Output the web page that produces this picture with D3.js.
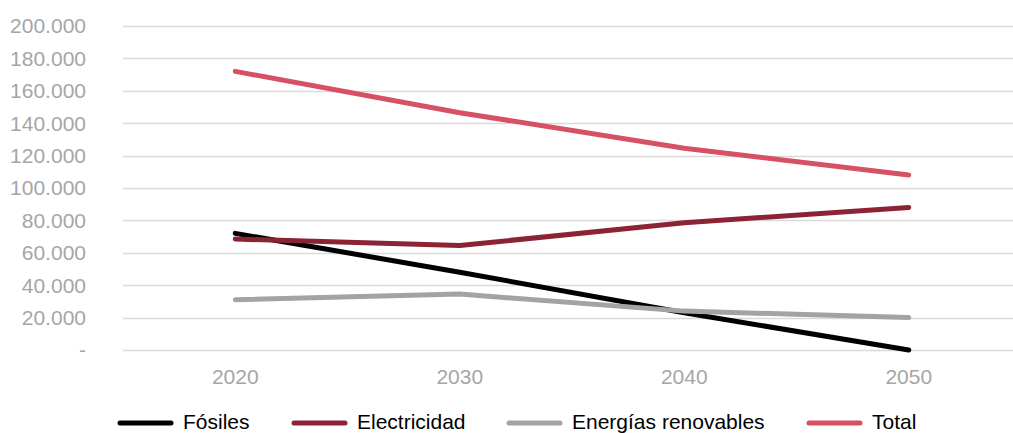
<!DOCTYPE html>
<html>
<head>
<meta charset="utf-8">
<script src="https://cdn.jsdelivr.net/npm/d3@7"></script>
<style>
  body { margin: 0; background: #fff; }
  svg { display: block; font-family: "Liberation Sans", Arial, sans-serif; }
</style>
</head>
<body>
<div id="chart"></div>
<script>
const years = ['2020', '2030', '2040', '2050'];
const fosiles = [72000, 48000, 23000, 0];
const electricidad = [68500, 64500, 78500, 88000];
const renovables = [31000, 34500, 24000, 20000];
const total = [172000, 146500, 124500, 108000];
const yTicks = [0, 20000, 40000, 60000, 80000, 100000, 120000, 140000, 160000, 180000, 200000];

const series = [
    {name: 'Fósiles', values: fosiles, color: '#000000'},
    {name: 'Electricidad', values: electricidad, color: '#8c2334'},
    {name: 'Energías renovables', values: renovables, color: '#a3a3a3'},
    {name: 'Total', values: total, color: '#d65163'}
];

const width = 1013;
const height = 433;
const margin = {top: 26, right: -8, bottom: 83, left: 123};

const svg = d3.select('#chart')
    .append('svg')
        .attr('width', width)
        .attr('height', height);

const x = d3.scalePoint()
    .domain(years)
    .range([margin.left, width - margin.right])
    .padding(0.5);
const y = d3.scaleLinear()
    .domain([0, 200000])
    .range([height - margin.bottom, margin.top]);

const fmt = d => d === 0 ? '-' : d3.format(',')(d).replace(/,/g, '.');

// gridlines
svg.append('g')
    .selectAll('line')
    .data(yTicks)
    .join('line')
        .attr('x1', margin.left)
        .attr('x2', width - margin.right)
        .attr('y1', d => Math.round(y(d)) + 0.5)
        .attr('y2', d => Math.round(y(d)) + 0.5)
        .attr('stroke', '#d9d9d9')
        .attr('stroke-width', 1.3);

// y labels
svg.append('g')
    .selectAll('text')
    .data(yTicks)
    .join('text')
        .attr('x', 86)
        .attr('y', d => y(d))
        .attr('dy', '0.35em')
        .attr('text-anchor', 'end')
        .attr('fill', '#a6a6a6')
        .style('font-size', '21px')
        .text(fmt);

// x labels
svg.append('g')
    .selectAll('text')
    .data(years)
    .join('text')
        .attr('x', d => x(d))
        .attr('y', 384)
        .attr('text-anchor', 'middle')
        .attr('fill', '#a6a6a6')
        .style('font-size', '21px')
        .text(d => d);

const line = d3.line()
    .x((d, i) => x(years[i]))
    .y(d => y(d));

svg.append('g')
    .selectAll('path')
    .data(series)
    .join('path')
        .attr('fill', 'none')
        .attr('stroke', d => d.color)
        .attr('stroke-width', 5)
        .attr('stroke-linecap', 'round')
        .attr('stroke-linejoin', 'round')
        .attr('d', d => line(d.values));

// legend
const legendX = [118, 292, 507, 807];
const leg = svg.append('g')
    .selectAll('g')
    .data(series)
    .join('g')
        .attr('transform', (d, i) => `translate(${legendX[i]},423)`);
leg.append('line')
    .attr('x1', 2)
    .attr('x2', 53)
    .attr('stroke', d => d.color)
    .attr('stroke-width', 5)
    .attr('stroke-linecap', 'round');
leg.append('text')
    .attr('x', 65)
    .attr('y', 5.5)
    .attr('fill', '#000')
    .style('font-size', '21px')
    .text(d => d.name);
</script>
</body>
</html>
